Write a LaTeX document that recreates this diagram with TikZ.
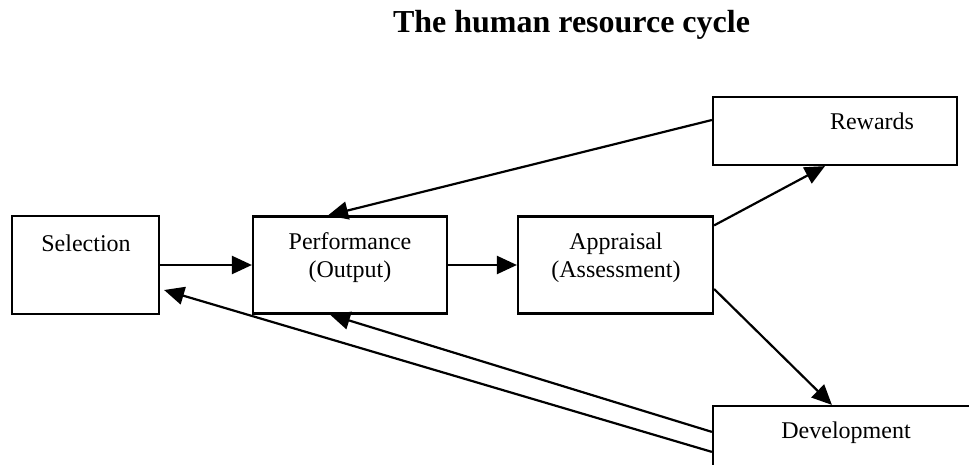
\documentclass[tikz,border=0pt]{standalone}
\usepackage{fontspec}
\setmainfont{Liberation Serif}
\usetikzlibrary{arrows.meta}

\begin{document}
\begin{tikzpicture}[x=0.5pt,y=-0.5pt,
		box/.style = {draw,line width=1.1pt,inner sep=0pt},
		txt/.style = {anchor=base,align=center,inner sep=0pt,font=\fontsize{12}{13.5}\selectfont},
		link/.style = {line width=1.1pt,-{Triangle[length=10pt,width=9pt]}}]
	\path[use as bounding box,clip] (0,0) rectangle (969,465);
	\node [anchor=base,inner sep=0pt,font=\fontsize{16}{19}\selectfont\bfseries] (title) at (571.5,33) {The human resource cycle};
	% boxes
	\node [box,minimum width=73.5pt,minimum height=49pt] (sel) at (85.5,265) {};
	\node [box,minimum width=97pt,minimum height=48.5pt] (perf) at (350,265) {};
	\node [box,minimum width=97.5pt,minimum height=48.5pt] (appr) at (615.5,265) {};
	\node [box,minimum width=122pt,minimum height=34pt] (rew) at (835,131) {};
	\node [box,minimum width=146pt,minimum height=42pt] (dev) at (859,448) {};
	% texts (base = last line)
	\node [txt] (selText) at (86,251) {Selection};
	\node [txt] (perfText) at (350,277) {Performance\\(Output)};
	\node [txt] (apprText) at (616,277) {Appraisal\\(Assessment)};
	\node [txt] (rewText) at (872,130) {Rewards};
	\node [txt] (devText) at (846,438) {Development};
	% arrows
	\draw [link] (sel.east) -- (perf.west);
	\draw [link] (perf.east) -- (appr.west);
	\draw [link] ([yshift=-5pt]appr.north east) -- ([xshift=-5pt]rew.south);
	\draw [link] ([yshift=5.5pt]rew.west) -- ([xshift=-11pt]perf.north);
	\draw [link] ([yshift=-12pt]appr.east) -- ([xshift=60pt]dev.north west);
	\draw [link] ([yshift=-13.5pt]dev.north west) -- ([xshift=-10pt]perf.south);
	\draw [link] ([yshift=-23.5pt]dev.north west) -- ([xshift=2pt,yshift=-12.5pt]sel.east);
\end{tikzpicture}
\end{document}
